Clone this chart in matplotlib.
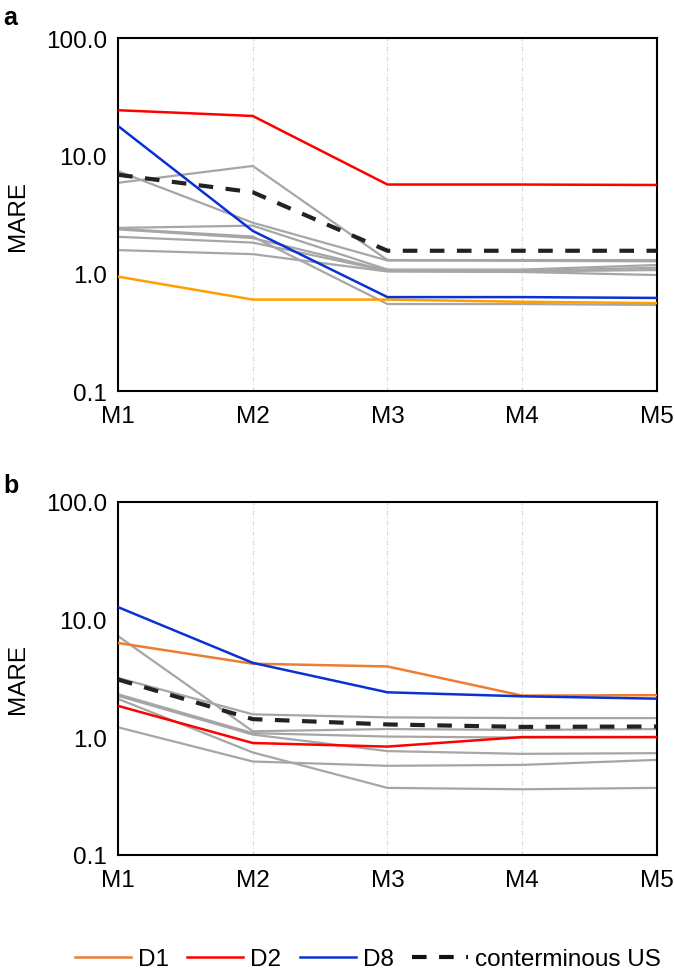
import numpy as np
import matplotlib.pyplot as plt
from matplotlib.lines import Line2D

plt.rcParams['font.family'] = ['Liberation Sans', 'DejaVu Sans']

models = ["M1", "M2", "M3", "M4", "M5"]

# --- panel a ---
a_gray = [
    [5.9, 8.2, 1.30, 1.30, 1.30],
    [7.4, 2.7, 1.29, 1.28, 1.27],
    [2.44, 2.55, 1.08, 1.08, 1.18],
    [2.40, 2.06, 0.55, 0.55, 0.54],
    [2.37, 2.00, 1.06, 1.05, 1.12],
    [2.05, 1.83, 1.05, 1.04, 1.07],
    [1.58, 1.46, 1.04, 1.03, 0.97],
]
a_d1 = [0.94, 0.60, 0.60, 0.575, 0.56]
a_d2 = [24.4, 21.8, 5.7, 5.7, 5.65]
a_d8 = [17.9, 2.3, 0.63, 0.63, 0.62]
a_us = [6.9, 4.9, 1.56, 1.56, 1.56]

# --- panel b ---
b_gray = [
    [3.18, 1.56, 1.47, 1.45, 1.45],
    [7.2, 1.12, 1.17, 1.15, 1.17],
    [2.31, 1.08, 1.01, 0.99, 1.00],
    [2.24, 1.05, 0.76, 0.72, 0.73],
    [2.11, 0.74, 0.37, 0.36, 0.37],
    [1.21, 0.62, 0.57, 0.58, 0.64],
]
b_d1 = [6.3, 4.2, 3.98, 2.25, 2.27]
b_d2 = [1.84, 0.89, 0.83, 1.0, 1.0]
b_d8 = [12.7, 4.27, 2.40, 2.22, 2.12]
b_us = [3.08, 1.42, 1.28, 1.22, 1.23]

GRAY = "#a6a6a6"
RED = "#ff0000"
BLUE = "#0a32d2"
ORANGE = "#ed7d31"
AMBER = "#ffa000"
FS = 17.5

fig = plt.figure(figsize=(6.75, 9.78), dpi=100)
ax_a = fig.add_axes([0.175, 0.599, 0.798, 0.361])
ax_b = fig.add_axes([0.175, 0.125, 0.798, 0.361])
x = np.arange(len(models))


def draw(ax, grays, d1, d2, d8, us, d1_color):
    for g in grays:
        ax.plot(x, g, color=GRAY, lw=1.6, zorder=2)
    ax.plot(x, d1, color=d1_color, lw=1.8, zorder=3)
    ax.plot(x, d2, color=RED, lw=1.8, zorder=3)
    ax.plot(x, d8, color=BLUE, lw=1.8, zorder=3)
    ax.plot(x, us, color="#222222", lw=3, ls=(0, (3.5, 3)), zorder=4)
    ax.set_yscale("log")
    ax.set_ylim(0.1, 100)
    ax.set_xlim(0, 4)
    ax.set_yticks([0.1, 1, 10, 100])
    ax.set_yticklabels(["0.1", "1.0", "10.0", "100.0"])
    ax.yaxis.set_minor_locator(plt.NullLocator())
    ax.set_xticks(x)
    ax.set_xticklabels(models)
    ax.tick_params(length=0, labelsize=FS, pad=10)
    ax.tick_params(axis="y", pad=8)
    ax.grid(axis="x", color="#d9d9d9", lw=0.8, ls=(0, (4, 2, 1, 2)))
    ax.set_axisbelow(True)
    for s in ax.spines.values():
        s.set_linewidth(1.5)
    ax.set_ylabel("MARE", fontsize=FS, labelpad=12)


draw(ax_a, a_gray, a_d1, a_d2, a_d8, a_us, AMBER)
draw(ax_b, b_gray, b_d1, b_d2, b_d8, b_us, ORANGE)

fig.text(0.005, 0.982, "a", fontsize=18, fontweight="bold", va="center")
fig.text(0.005, 0.503, "b", fontsize=18, fontweight="bold", va="center")

handles = [
    Line2D([], [], color=ORANGE, lw=1.8),
    Line2D([], [], color=RED, lw=1.8),
    Line2D([], [], color=BLUE, lw=1.8),
    Line2D([], [], color="#111111", lw=3, ls=(0, (3.5, 3))),
]
fig.legend(handles, ["D1", "D2", "D8", "conterminous US"], loc="center",
           bbox_to_anchor=(0.545, 0.018), ncol=4, frameon=False, fontsize=FS,
           handlelength=2.3, handletextpad=0.3, columnspacing=0.75)

fig.savefig("out.png", dpi=100)
